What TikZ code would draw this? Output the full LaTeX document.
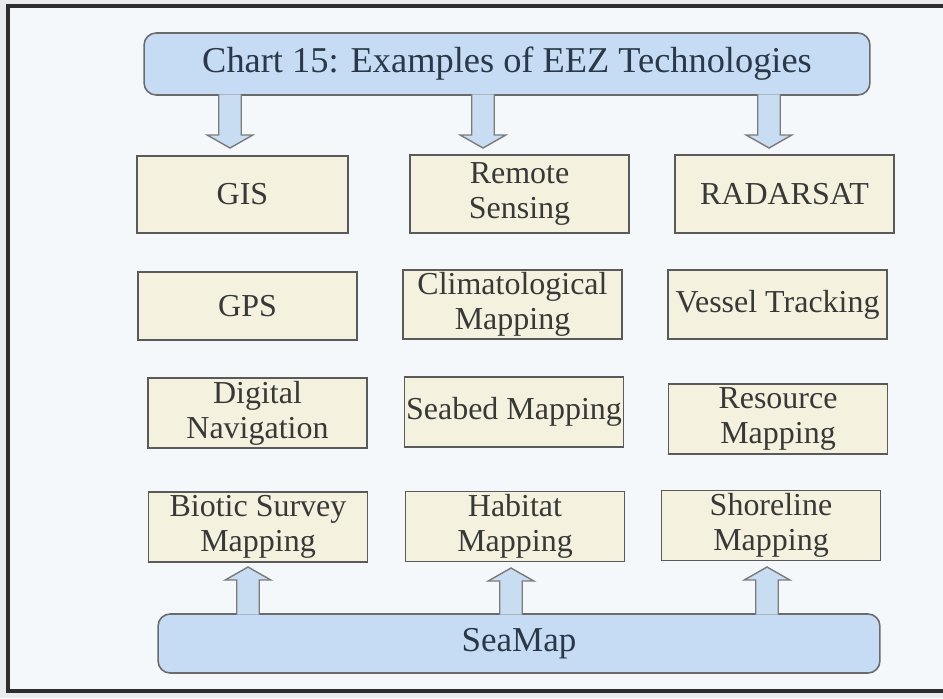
\documentclass[tikz,border=0pt]{standalone}
\usepackage{fontspec}
\setmainfont{Liberation Serif}
\usetikzlibrary{calc}

\definecolor{framegray}{HTML}{2E2E2E}
\definecolor{paper}{HTML}{F5F8FB}
\definecolor{outside}{HTML}{E9EBED}
\definecolor{headblue}{HTML}{C6DCF4}
\definecolor{arrowblue}{HTML}{C9DDF2}
\definecolor{cream}{HTML}{F4F2DE}
\definecolor{edgegray}{HTML}{5A5A5A}
\definecolor{inkgray}{HTML}{383838}
\definecolor{inkblue}{HTML}{2A3848}

\tikzset{
  techbox/.style={draw=edgegray, line width=0.9pt, fill=cream, inner sep=0pt,
    align=center, text=inkgray, font=\fontsize{18.2}{19.9}\selectfont,
    minimum width=4.38cm, minimum height=1.4cm},
  bluebox/.style={draw=edgegray!90, line width=0.9pt, fill=headblue,
    rounded corners=0.24cm, inner sep=0pt, text=inkblue},
  fatarr/.style={draw=edgegray!80, line width=0.8pt, fill=arrowblue, line join=miter},
}

\newcommand{\fatarrow}[2]{%
  \filldraw[fatarr] let \p1=(#1), \p2=(#2), \n1={sign(\y1-\y2)*7.4} in
    ({\x1-6.4pt},\y1) -- ({\x1-6.4pt},{\y2+\n1}) -- ({\x1-13pt},{\y2+\n1}) -- (\x2,\y2)
    -- ({\x1+13pt},{\y2+\n1}) -- ({\x1+6.4pt},{\y2+\n1}) -- ({\x1+6.4pt},\y1);}

\begin{document}
\begin{tikzpicture}[x=0.02cm, y=-0.02cm]
    \useasboundingbox (0,0) rectangle (943,698);
    \fill[outside] (0,0) rectangle (943,698);
    \fill[paper] (8,6) rectangle (943,691);
    \draw[framegray, line width=2.3pt] (943,6) -- (8,6) -- (8,691) -- (943,691);

    \node[bluebox, minimum width=14.52cm, minimum height=1.24cm,
      font=\fontsize{20.7}{24}\selectfont] (title) at (507,64) {Chart 15: Examples of EEZ Technologies};

    \node[techbox, minimum width=4.22cm, minimum height=1.54cm] (gis) at (242.5,194.5) {GIS};
    \node[techbox, minimum height=1.56cm] (remote) at (519.5,194) {Remote\\Sensing};
    \node[techbox, minimum height=1.56cm] (radar) at (784.5,194) {RADARSAT};

    \node[techbox, minimum height=1.36cm] (gps) at (247.5,306) {GPS};
    \node[techbox, minimum height=1.38cm] (clim) at (512.5,304.5) {Climatological\\Mapping};
    \node[techbox, minimum height=1.38cm] (vessel) at (777.5,304.5) {Vessel Tracking};

    \node[techbox] (digital) at (257.5,413) {Digital\\Navigation};
    \node[techbox] (seabed) at (514,412) {Seabed Mapping};
    \node[techbox] (resource) at (778,419) {Resource\\Mapping};

    \node[techbox] (biotic) at (258,527) {Biotic Survey\\Mapping};
    \node[techbox] (habitat) at (515,526.5) {Habitat\\Mapping};
    \node[techbox] (shore) at (771,525.5) {Shoreline\\Mapping};

    \node[bluebox, minimum width=14.44cm, minimum height=1.18cm,
      font=\fontsize{19.9}{24}\selectfont] (seamap) at (519,643.5) {SeaMap};

    \coordinate (d1) at (230,148);
    \coordinate (d2) at (483,148);
    \coordinate (d3) at (769,148);
    \coordinate (u1) at (248,567);
    \coordinate (u2) at (511,568);
    \coordinate (u3) at (767,567);

    \foreach \c in {d1,d2,d3} {\fatarrow{$(title.south -| \c)+(0,-1.5)$}{\c}}
    \foreach \c in {u1,u2,u3} {\fatarrow{$(seamap.north -| \c)+(0,1.5)$}{\c}}
\end{tikzpicture}
\end{document}
